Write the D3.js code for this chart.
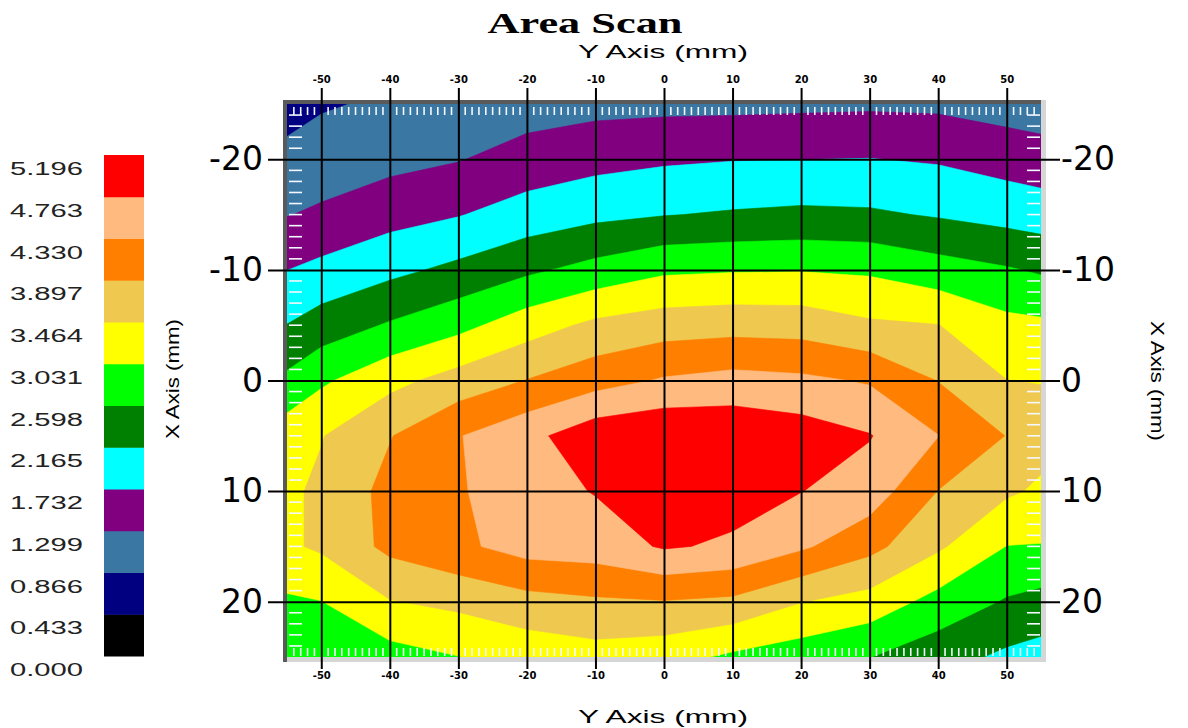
<!DOCTYPE html>
<html>
<head>
<meta charset="utf-8">
<title>Area Scan</title>
<script src="https://cdn.jsdelivr.net/npm/d3@7"></script>
<style>
  body { margin: 0; background: #fff; }
  svg { display: block; }
</style>
</head>
<body>
<svg id="chart" width="1188" height="728"></svg>
<script>
"use strict";

// sample positions: columns along the Y axis (mm), rows along the X axis (mm)
const yCols = [-55, -50, -40, -30, -20, -10, 0, 10, 20, 30, 40, 50, 55];
const xRows = [-25, -20, -15, -10, -5, 0, 5, 10, 15, 20, 25];

// scan values, one array per X row (estimated from the colour bands)
const rowM25 = [0.693, 0.823, 0.931, 0.996, 1.104, 1.169, 1.186, 1.191, 1.212, 1.230, 1.212, 1.113, 1.070];
const rowM20 = [0.987, 1.061, 1.169, 1.277, 1.472, 1.593, 1.671, 1.715, 1.728, 1.741, 1.689, 1.554, 1.490];
const rowM15 = [1.282, 1.368, 1.576, 1.710, 1.918, 2.061, 2.148, 2.208, 2.252, 2.226, 2.126, 2.013, 1.953];
const rowM10 = [1.728, 1.845, 2.057, 2.269, 2.516, 2.741, 2.957, 2.996, 3.009, 2.966, 2.780, 2.637, 2.546];
const rowM05 = [2.174, 2.360, 2.641, 2.901, 3.265, 3.559, 3.693, 3.737, 3.715, 3.529, 3.473, 3.152, 3.113];
const rowP00 = [2.693, 2.962, 3.334, 3.642, 3.910, 4.157, 4.373, 4.473, 4.417, 4.287, 3.884, 3.468, 3.451];
const rowP05 = [3.269, 3.442, 3.875, 4.308, 4.633, 5.044, 5.153, 5.109, 4.980, 4.785, 4.339, 3.884, 3.616];
const rowP10 = [3.377, 3.551, 4.027, 4.287, 4.590, 4.785, 5.023, 4.936, 4.772, 4.568, 3.888, 3.529, 3.399];
const rowP15 = [3.399, 3.529, 4.005, 4.243, 4.503, 4.547, 4.806, 4.698, 4.395, 4.027, 3.529, 3.022, 3.009];
const rowP20 = [2.966, 3.022, 3.442, 3.568, 3.745, 3.832, 3.875, 3.810, 3.477, 3.291, 2.879, 2.555, 2.455];
const rowP25 = [2.771, 2.815, 2.858, 3.022, 3.183, 3.291, 3.200, 2.950, 2.793, 2.607, 2.338, 2.078, 1.992];
const scanRows = [rowM25, rowM20, rowM15, rowM10, rowM05, rowP00, rowP05, rowP10, rowP15, rowP20, rowP25];

// colour scale levels (legend)
const levels = [0.000, 0.433, 0.866, 1.299, 1.732, 2.165, 2.598, 3.031, 3.464, 3.897, 4.330, 4.763, 5.196];
const bandColors = ["#000000", "#000080", "#3a77a3", "#800080", "#00ffff", "#008000",
                    "#00ff00", "#ffff00", "#efc850", "#ff8000", "#ffba80", "#ff0000"];

// axis ticks
const yTicks = [-50, -40, -30, -20, -10, 0, 10, 20, 30, 40, 50];
const xTicks = [-20, -10, 0, 10, 20];

const svg = d3.select("#chart");
const plot = {left: 287, right: 1041, top: 104, bottom: 657};

const yScale = d3.scaleLinear().domain([-55, 55]).range([plot.left, plot.right]);
const xScale = d3.scaleLinear().domain([-25, 25]).range([plot.top, plot.bottom]);

// grid space of d3.contours -> mm (sample i sits at i + 0.5)
const colToMm = d3.scaleLinear().domain(yCols.map((d, i) => i + 0.5)).range(yCols).clamp(true);
const rowToMm = d3.scaleLinear().domain(xRows.map((d, i) => i + 0.5)).range(xRows).clamp(true);

const toPixels = d3.geoTransform({
    point: function (gx, gy) {
        this.stream.point(yScale(colToMm(gx)), xScale(rowToMm(gy)));
    }
});
const path = d3.geoPath(toPixels);

const bands = d3.contours()
    .size([yCols.length, xRows.length])
    .thresholds(levels.slice(0, bandColors.length))
    (scanRows.flat());

svg.append("clipPath").attr("id", "plot-clip")
    .append("rect")
    .attr("x", plot.left).attr("y", plot.top)
    .attr("width", plot.right - plot.left).attr("height", plot.bottom - plot.top);

const field = svg.append("g").attr("clip-path", "url(#plot-clip)");

field.selectAll("path")
    .data(bands)
    .enter()
    .append("path")
    .attr("d", path)
    .attr("fill", (d, i) => bandColors[i])
    .attr("stroke", (d, i) => bandColors[i])
    .attr("stroke-width", 0.6);

// white minor ticks inside the frame
const minorY = d3.range(-54, 55).filter(d => d % 10 !== 0);
const minorX = d3.range(-24, 25).filter(d => d % 10 !== 0);
const minor = svg.append("g").attr("stroke", "#f4f8ff").attr("stroke-width", 1.6);

minor.selectAll(".mt").data(minorY).enter().append("line")
    .attr("x1", d => yScale(d)).attr("x2", d => yScale(d))
    .attr("y1", plot.top + 3).attr("y2", plot.top + 11);
minor.selectAll(".mb").data(minorY).enter().append("line")
    .attr("x1", d => yScale(d)).attr("x2", d => yScale(d))
    .attr("y1", plot.bottom - 9).attr("y2", plot.bottom - 1);
minor.selectAll(".ml").data(minorX).enter().append("line")
    .attr("x1", plot.left + 2).attr("x2", plot.left + 15)
    .attr("y1", d => xScale(d)).attr("y2", d => xScale(d));
minor.selectAll(".mr").data(minorX).enter().append("line")
    .attr("x1", plot.right - 14).attr("x2", plot.right - 1)
    .attr("y1", d => xScale(d)).attr("y2", d => xScale(d));

// frame: dark top/left, light bottom/right
svg.append("rect").attr("x", plot.left - 4).attr("y", plot.top - 4)
    .attr("width", plot.right - plot.left + 4).attr("height", 4).attr("fill", "#5a5a5a");
svg.append("rect").attr("x", plot.left - 4).attr("y", plot.top - 4)
    .attr("width", 4).attr("height", plot.bottom - plot.top + 9).attr("fill", "#5a5a5a");
svg.append("rect").attr("x", plot.right).attr("y", plot.top - 4)
    .attr("width", 5).attr("height", plot.bottom - plot.top + 9).attr("fill", "#d6d6d6");
svg.append("rect").attr("x", plot.left).attr("y", plot.bottom)
    .attr("width", plot.right - plot.left + 5).attr("height", 5).attr("fill", "#d6d6d6");

// axes with grid lines running through the plot
const gridTop = 88, gridBottom = 669, gridLeft = 268, gridRight = 1060;

const topAxis = svg.append("g")
    .attr("transform", "translate(0," + gridTop + ")")
    .call(d3.axisTop(yScale).tickValues(yTicks).tickFormat(d => String(d))
        .tickSizeInner(-(gridBottom - gridTop)).tickSizeOuter(0).tickPadding(5));

const bottomAxis = svg.append("g")
    .attr("transform", "translate(0," + gridBottom + ")")
    .call(d3.axisBottom(yScale).tickValues(yTicks).tickFormat(d => String(d))
        .tickSize(0).tickPadding(3));

const leftAxis = svg.append("g")
    .attr("transform", "translate(" + gridLeft + ",0)")
    .call(d3.axisLeft(xScale).tickValues(xTicks).tickFormat(d => String(d))
        .tickSizeInner(-(gridRight - gridLeft)).tickSizeOuter(0).tickPadding(5));

const rightAxis = svg.append("g")
    .attr("transform", "translate(" + gridRight + ",0)")
    .call(d3.axisRight(xScale).tickValues(xTicks).tickFormat(d => String(d))
        .tickSize(0).tickPadding(1));

[topAxis, bottomAxis, leftAxis, rightAxis].forEach(function (ax) {
    ax.select(".domain").remove();
    ax.selectAll(".tick line").attr("stroke", "#000").attr("stroke-width", 2);
    ax.selectAll("text").attr("fill", "#000");
});

[topAxis, bottomAxis].forEach(function (ax) {
    ax.attr("font-family", "DejaVu Sans").attr("font-size", 10).attr("font-weight", "bold");
});
[leftAxis, rightAxis].forEach(function (ax) {
    ax.attr("font-family", "DejaVu Sans").attr("font-size", 33);
});

// titles
svg.append("text")
    .attr("x", 585).attr("y", 33)
    .attr("text-anchor", "middle")
    .attr("font-family", "Liberation Serif").attr("font-weight", "bold").attr("font-size", 30)
    .attr("textLength", 195).attr("lengthAdjust", "spacingAndGlyphs")
    .text("Area Scan");

svg.append("text")
    .attr("x", 663).attr("y", 58)
    .attr("text-anchor", "middle")
    .attr("font-family", "Liberation Sans").attr("font-size", 19)
    .attr("textLength", 170).attr("lengthAdjust", "spacingAndGlyphs")
    .text("Y Axis (mm)");

svg.append("text")
    .attr("x", 663).attr("y", 723)
    .attr("text-anchor", "middle")
    .attr("font-family", "Liberation Sans").attr("font-size", 19)
    .attr("textLength", 170).attr("lengthAdjust", "spacingAndGlyphs")
    .text("Y Axis (mm)");

svg.append("text")
    .attr("transform", "translate(179,379) rotate(-90)")
    .attr("text-anchor", "middle")
    .attr("font-family", "Liberation Sans").attr("font-size", 18)
    .attr("textLength", 120).attr("lengthAdjust", "spacingAndGlyphs")
    .text("X Axis (mm)");

svg.append("text")
    .attr("transform", "translate(1151,381) rotate(90)")
    .attr("text-anchor", "middle")
    .attr("font-family", "Liberation Sans").attr("font-size", 18)
    .attr("textLength", 120).attr("lengthAdjust", "spacingAndGlyphs")
    .text("X Axis (mm)");

// colour legend
const legendScale = d3.scaleLinear().domain([levels[levels.length - 1], levels[0]]).range([155, 656]);
const legend = svg.append("g");

legend.selectAll("rect")
    .data(bandColors)
    .enter()
    .append("rect")
    .attr("x", 104)
    .attr("width", 40)
    .attr("y", (d, i) => legendScale(levels[i + 1]))
    .attr("height", (d, i) => legendScale(levels[i]) - legendScale(levels[i + 1]) + 0.5)
    .attr("fill", d => d);

legend.selectAll("text")
    .data(levels)
    .enter()
    .append("text")
    .attr("x", 10)
    .attr("y", d => legendScale(d) + 20)
    .attr("font-family", "Liberation Sans").attr("font-size", 18)
    .attr("fill", "#222")
    .attr("textLength", 73).attr("lengthAdjust", "spacingAndGlyphs")
    .text(d => d.toFixed(3));
</script>
</body>
</html>
